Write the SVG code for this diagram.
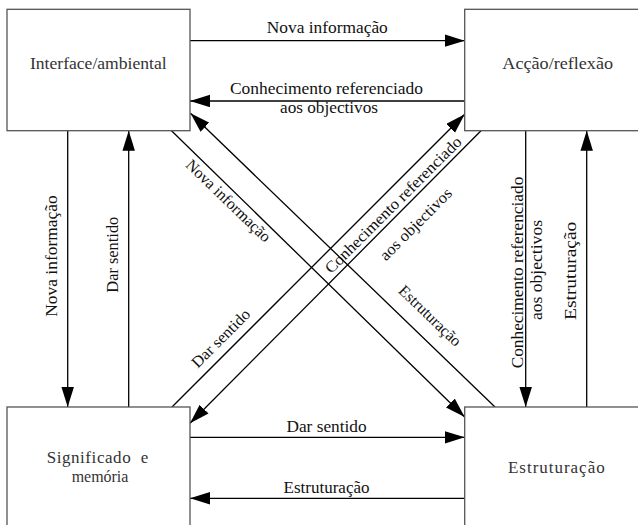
<svg xmlns="http://www.w3.org/2000/svg" width="638" height="525" viewBox="0 0 638 525">
  <style>
    text { font-family: 'Liberation Serif', 'Times New Roman', Times, 'Nimbus Roman', 'DejaVu Serif', 'Noto Serif', serif; }
    .box { fill: #ffffff; stroke: #555555; stroke-width: 1.3; }
    .node-label { font-size: 17px; fill: #333333; text-anchor: middle; }
    .edge { fill: none; stroke: #000000; stroke-width: 1.3; }
    .edge-label { font-size: 16px; fill: #111111; text-anchor: middle; }
  </style>
  <defs>
    <marker id="head" markerUnits="userSpaceOnUse" markerWidth="20" markerHeight="13" refX="20" refY="6.25" orient="auto">
      <path d="M0,0 L20,6.25 L0,12.5 Z" fill="#000000"/>
    </marker>
  </defs>
  <rect width="638" height="525" fill="#ffffff"/>

  <!-- connectors -->
  <g id="connectors">
    <!-- horizontal -->
    <line class="edge" x1="190" y1="40.7" x2="464.7" y2="40.7" marker-end="url(#head)"/>
    <line class="edge" x1="464.7" y1="101" x2="190" y2="101" marker-end="url(#head)"/>
    <line class="edge" x1="190" y1="437.3" x2="464.7" y2="437.3" marker-end="url(#head)"/>
    <line class="edge" x1="464.7" y1="498.3" x2="190" y2="498.3" marker-end="url(#head)"/>
    <!-- vertical -->
    <line class="edge" x1="67.7" y1="130.7" x2="67.7" y2="407" marker-end="url(#head)"/>
    <line class="edge" x1="128.7" y1="407" x2="128.7" y2="130.7" marker-end="url(#head)"/>
    <line class="edge" x1="525.7" y1="130.7" x2="525.7" y2="407" marker-end="url(#head)"/>
    <line class="edge" x1="586.7" y1="407" x2="586.7" y2="130.7" marker-end="url(#head)"/>
    <!-- diagonal -->
    <line class="edge" x1="171.5" y1="130.7" x2="464.7" y2="417" marker-end="url(#head)"/>
    <line class="edge" x1="495" y1="407" x2="190.5" y2="113.3" marker-end="url(#head)"/>
    <line class="edge" x1="172" y1="407" x2="464.7" y2="114.3" marker-end="url(#head)"/>
    <line class="edge" x1="481" y1="130.7" x2="190" y2="423.3" marker-end="url(#head)"/>

    <!-- labels: horizontal -->
    <text class="edge-label" x="327.3" y="33.3" textLength="121" lengthAdjust="spacingAndGlyphs">Nova informação</text>
    <text class="edge-label" x="326.5" y="94.3" textLength="193" lengthAdjust="spacingAndGlyphs">Conhecimento referenciado</text>
    <text class="edge-label" x="329" y="113.3" textLength="98" lengthAdjust="spacingAndGlyphs">aos objectivos</text>
    <text class="edge-label" x="326.5" y="431.7" textLength="80" lengthAdjust="spacingAndGlyphs">Dar sentido</text>
    <text class="edge-label" x="326.5" y="492.7" textLength="86" lengthAdjust="spacingAndGlyphs">Estruturação</text>

    <!-- labels: vertical -->
    <text class="edge-label" x="57" y="256" transform="rotate(-90 57 256)" textLength="121.7" lengthAdjust="spacingAndGlyphs">Nova informação</text>
    <text class="edge-label" x="118.3" y="254.7" transform="rotate(-90 118.3 254.7)" textLength="76" lengthAdjust="spacingAndGlyphs">Dar sentido</text>
    <text class="edge-label" x="523.3" y="272.5" transform="rotate(-90 523.3 272.5)" textLength="191.7" lengthAdjust="spacingAndGlyphs">Conhecimento referenciado</text>
    <text class="edge-label" x="542" y="270" transform="rotate(-90 542 270)" textLength="100" lengthAdjust="spacingAndGlyphs">aos objectivos</text>
    <text class="edge-label" x="576" y="270.8" transform="rotate(-90 576 270.8)" textLength="98.3" lengthAdjust="spacingAndGlyphs">Estruturação</text>

    <!-- labels: diagonal -->
    <text class="edge-label" x="224.7" y="204.6" transform="rotate(44 224.7 204.6)" textLength="111" lengthAdjust="spacingAndGlyphs">Nova informação</text>
    <text class="edge-label" x="426.4" y="319.6" transform="rotate(44 426.4 319.6)" textLength="80" lengthAdjust="spacingAndGlyphs">Estruturação</text>
    <text class="edge-label" x="397" y="208.6" transform="rotate(-45 397 208.6)" textLength="186" lengthAdjust="spacingAndGlyphs">Conhecimento referenciado</text>
    <text class="edge-label" x="419.5" y="227.8" transform="rotate(-45 419.5 227.8)" textLength="95" lengthAdjust="spacingAndGlyphs">aos objectivos</text>
    <text class="edge-label" x="224.5" y="342" transform="rotate(-45 224.5 342)" textLength="76" lengthAdjust="spacingAndGlyphs">Dar sentido</text>
  </g>

  <!-- nodes -->
  <g id="interface">
    <rect class="box" x="7" y="9.3" width="183" height="121.4"/>
    <text class="node-label" x="98.3" y="69.3" textLength="136.7" lengthAdjust="spacingAndGlyphs">Interface/ambiental</text>
  </g>
  <g id="accao">
    <rect class="box" x="464.7" y="9.3" width="200" height="121.4"/>
    <text class="node-label" x="557.7" y="69.3" textLength="110.7" lengthAdjust="spacingAndGlyphs">Acção/reflexão</text>
  </g>
  <g id="significado">
    <rect class="box" x="7" y="407" width="183" height="140"/>
    <text class="node-label" x="97.5" y="463.3" textLength="101.7" lengthAdjust="spacing" xml:space="preserve">Significado  e</text>
    <text class="node-label" x="100" y="481.7" textLength="56.7" lengthAdjust="spacingAndGlyphs">memória</text>
  </g>
  <g id="estruturacao">
    <rect class="box" x="464.7" y="407" width="200" height="140"/>
    <text class="node-label" x="556.3" y="473.3" textLength="96.7" lengthAdjust="spacing">Estruturação</text>
  </g>
</svg>
